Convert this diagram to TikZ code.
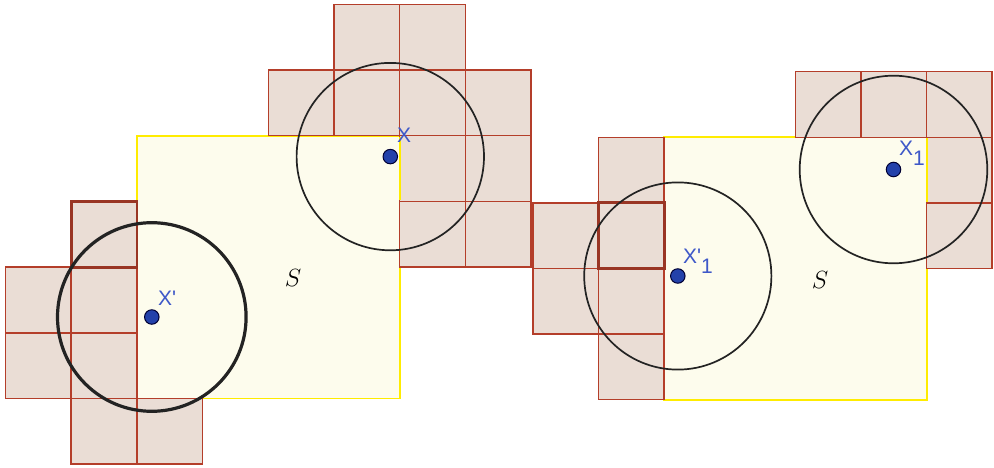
\documentclass[tikz,border=0pt]{standalone}
\usepackage{fontspec}
\newfontfamily\labfont{Liberation Sans}
\definecolor{tilefill}{RGB}{234,221,213}
\definecolor{tileline}{RGB}{180,62,42}
\definecolor{sqfill}{RGB}{253,252,237}
\definecolor{sqline}{RGB}{255,236,0}
\definecolor{labblue}{RGB}{62,88,200}
\definecolor{dotblue}{RGB}{35,65,170}
\definecolor{ringcol}{RGB}{35,35,35}
\tikzset{
  tilebg/.style={fill=tilefill},
  tile/.style={draw=tileline, line width=1.5pt},
  heavytile/.style={draw=tileline!85!black, line width=2.8pt},
  sq/.style={fill=sqfill, draw=sqline, line width=1.8pt},
  sqedge/.style={draw=sqline, line width=1.8pt},
  ring/.style={draw=ringcol, line width=1.7pt},
  thickring/.style={draw=ringcol, line width=3.2pt},
  dot/.style={circle, fill=dotblue, draw=black!80!blue, line width=1pt, minimum size=14.5pt, inner sep=0pt},
  lab/.style={anchor=base west, inner sep=0pt, text=labblue, font=\labfont\fontsize{21}{21}\selectfont},
  slab/.style={inner sep=0pt, font=\fontsize{25}{25}\selectfont}
}
\begin{document}
\begin{tikzpicture}[x=1pt,y=-1pt]
\useasboundingbox (0,0) rectangle (994,468);
% ---------- left panel ----------
\draw[sq] (136.9,135.7) rectangle (399.7,398.5);
\foreach \i/\j in {5/0,6/0,4/1,5/1,6/1,7/1,6/2,7/2,6/3,7/3,1/3,0/4,1/4,0/5,1/5,1/6,2/6}
  \fill[tilebg] ({5.5+\i*65.7},{4.3+\j*65.7}) rectangle ++(65.7,65.7);
\foreach \i/\j in {5/0,6/0,4/1,5/1,6/1,7/1,6/2,7/2,6/3,7/3,1/3,0/4,1/4,0/5,1/5,1/6,2/6}
  \draw[tile] ({5.5+\i*65.7},{4.3+\j*65.7}) rectangle ++(65.7,65.7);
\draw[sqedge] (399.7,136.6) -- (399.7,200.5);
\draw[heavytile] (71.2,201.4) rectangle (136.9,267.1);
% ---------- right panel ----------
\draw[sq] (664.2,137.3) rectangle (926.6,399.7);
\foreach \i/\j in {4/0,5/0,6/0,6/1,1/1,6/2,0/2,1/2,0/3,1/3,1/4}
  \fill[tilebg] ({533+\i*65.6},{71.7+\j*65.6}) rectangle ++(65.6,65.6);
\foreach \i/\j in {4/0,5/0,6/0,6/1,1/1,6/2,0/2,1/2,0/3,1/3,1/4}
  \draw[tile] ({533+\i*65.6},{71.7+\j*65.6}) rectangle ++(65.6,65.6);
\draw[sqedge] (926.6,138.2) -- (926.6,202);
\draw[heavytile] (598.6,202.9) rectangle (664.2,268.5);
% ---------- points and discs ----------
\node[dot] (X)   at (390.3,156.6) {};
\node[dot] (Xp)  at (151.8,317.0) {};
\node[dot] (Xp1) at (677.8,276.0) {};
\node[dot] (X1)  at (893.5,169.5) {};
\draw[ring] (X) circle (93.7pt);
\draw[thickring] (Xp) circle (94.3pt);
\draw[ring] (Xp1) circle (93.6pt);
\draw[ring] (X1) circle (93.8pt);
% ---------- labels ----------
\node[lab] (lX)   at (397,143) {X};
\node[lab] (lXp)  at (158,305) {X\char39};
\node[lab] (lXp1) at (683,263) {X\char39\raisebox{-10pt}{1}};
\node[lab] (lX1)  at (899,156) {X\raisebox{-10pt}{1}};
\node[slab] (S1) at (293,278) {$S$};
\node[slab] (S2) at (820,280) {$S$};
\end{tikzpicture}
\end{document}
